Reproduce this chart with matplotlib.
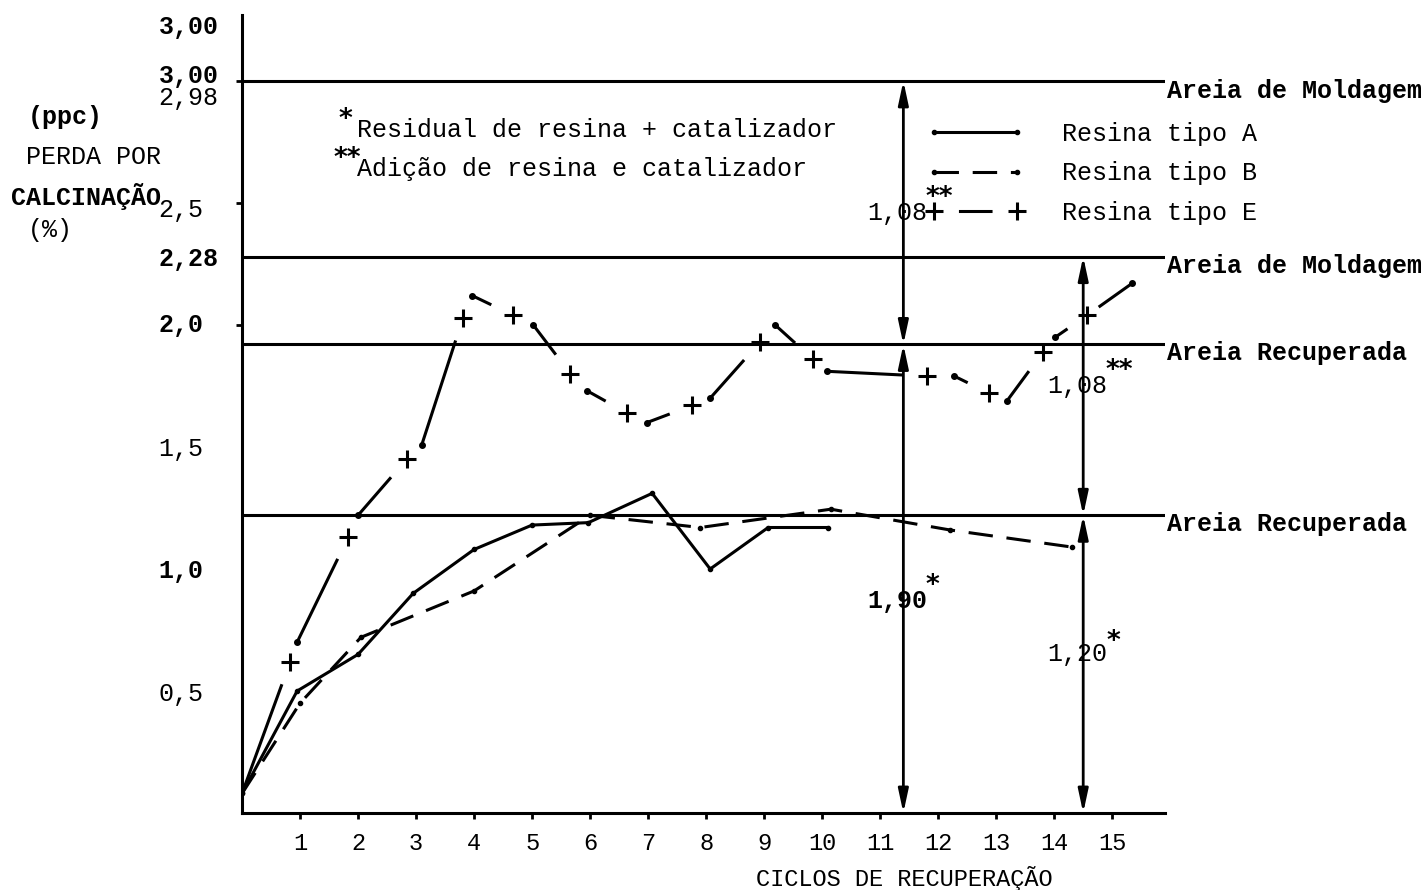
import numpy as np
import matplotlib.pyplot as plt
from matplotlib.lines import Line2D

plt.rcParams['font.family'] = ['Liberation Mono', 'DejaVu Sans Mono']

# ciclos de recuperacao / perda por calcinacao (%)
a_x = [0, 0.95, 2.0, 2.95, 4.0, 5.0, 5.97, 7.07, 8.07, 9.07, 10.1]
a_y = [0.08, 0.50, 0.65, 0.90, 1.08, 1.18, 1.19, 1.31, 1.00, 1.17, 1.17]

b_x = [0, 1.0, 2.05, 4.0, 6.0, 7.9, 10.15, 12.2, 14.3]
b_y = [0.08, 0.45, 0.72, 0.91, 1.22, 1.17, 1.245, 1.16, 1.09]

# tipo E: points alternate dot / plus
e_x = [0, 0.83, 0.95, 1.83, 2.0, 2.84, 3.1, 3.81, 3.97, 4.67, 5.02, 5.66, 5.95,
       6.63, 6.98, 7.76, 8.07, 8.93, 9.19, 9.84, 10.09, 11.81, 12.28, 12.88,
       13.19, 13.81, 14.02, 14.57, 15.34]
e_y = [0.08, 0.62, 0.70, 1.13, 1.22, 1.45, 1.51, 2.03, 2.12, 2.04, 2.00, 1.80,
       1.73, 1.64, 1.60, 1.67, 1.70, 1.93, 2.00, 1.86, 1.81, 1.79, 1.79, 1.72,
       1.69, 1.89, 1.95, 2.04, 2.17]

moldagem = [3.00, 2.28]
recuperada = [1.92, 1.22]
arrow_x = [11.4, 14.5]

ytick_pos = [0.5, 1.0, 1.5, 2.01, 2.28, 2.48, 2.94, 3.03, 3.23]
ytick_lab = ['0,5', '1,0', '1,5', '2,0', '2,28', '2,5', '2,98', '3,00', '3,00']
xticks = list(range(1, 16))

FS = 18
STAR = dict(family='DejaVu Sans', fontweight='bold', fontsize=19, ha='center', va='center')

fig = plt.figure(figsize=(14.27, 8.9), dpi=100)
ax = fig.add_axes([0.1696, 0.0865, 0.6468, 0.8966])
ax.set_xlim(0, 15.91)
ax.set_ylim(0, 3.27)

for s in ['top', 'right']:
    ax.spines[s].set_visible(False)
for s in ['left', 'bottom']:
    ax.spines[s].set_linewidth(2.2)

ax.set_xticks(xticks)
ax.set_xticklabels([str(t) for t in xticks], fontsize=FS - 1)
ax.tick_params(axis='x', length=4, width=2, pad=10)
ax.set_yticks(ytick_pos)
ax.set_yticklabels(ytick_lab, fontsize=FS, ha='left')
ax.tick_params(axis='y', length=0, pad=60)
ax.set_yticks([0.5, 1.0, 1.5, 2.0, 2.5, 3.0], minor=True)
ax.tick_params(axis='y', which='minor', length=4, width=2)
for lab in ax.get_yticklabels():
    if lab.get_text() in ('3,00', '2,28', '1,0', '2,0'):
        lab.set_fontweight('bold')

ax.set_xlabel('CICLOS DE RECUPERAÇÃO', fontsize=FS - 1)
ax.xaxis.set_label_coords(0.718, -0.066)

# reference levels
for lv in moldagem:
    ax.axhline(lv, color='k', lw=2.2)
    ax.text(15.95, lv - 0.04, 'Areia de Moldagem', fontsize=FS, fontweight='bold',
            va='center', ha='left', clip_on=False)
for lv in recuperada:
    ax.axhline(lv, color='k', lw=2.2)
    ax.text(15.95, lv - 0.035, 'Areia Recuperada', fontsize=FS, fontweight='bold',
            va='center', ha='left', clip_on=False)

# series
ax.plot(a_x, a_y, color='k', lw=2.2, marker='o', ms=3)
ax.plot(b_x, b_y, color='k', lw=2.2, ls=(0, (8, 4.5)), marker='o', ms=3)

to_px = ax.transData.transform
GAP = 24
n_e = len(e_x)
for i in range(0, n_e - 1, 2):
    x0, y0, x1, y1 = e_x[i], e_y[i], e_x[i + 1], e_y[i + 1]
    L = np.hypot(*(to_px((x1, y1)) - to_px((x0, y0))))
    f = max(0.35, 1 - GAP / L)
    ax.plot([x0, x0 + f * (x1 - x0)], [y0, y0 + f * (y1 - y0)], color='k', lw=2.2,
            solid_capstyle='butt')
# last stretch runs from the plus into the final dot
x0, y0, x1, y1 = e_x[-2], e_y[-2], e_x[-1], e_y[-1]
L = np.hypot(*(to_px((x1, y1)) - to_px((x0, y0))))
f = 14 / L
ax.plot([x0 + f * (x1 - x0), x1], [y0 + f * (y1 - y0), y1], color='k', lw=2.2,
        solid_capstyle='butt')
ax.plot(e_x[2::2], e_y[2::2], 'o', color='k', ms=4)
ax.plot(e_x[1::2], e_y[1::2], '+', color='k', ms=13, mew=2.2)

# difference arrows
arrow_kw = dict(arrowstyle='<|-|>,head_length=0.7,head_width=0.15', color='k',
                lw=2, mutation_scale=20, shrinkA=0, shrinkB=0)
for xa, top, mid in zip(arrow_x, moldagem, recuperada):
    ax.annotate('', xy=(xa, top), xytext=(xa, mid), arrowprops=arrow_kw)
    ax.annotate('', xy=(xa, mid), xytext=(xa, 0), arrowprops=arrow_kw)

ax.text(11.3, 2.46, '1,08', fontsize=FS, ha='center', va='center')
ax.text(12.02, 2.52, '**', **STAR)
ax.text(11.3, 0.87, '1,90', fontsize=FS, fontweight='bold', ha='center', va='center')
ax.text(11.9, 0.93, '*', **STAR)
ax.text(14.4, 1.75, '1,08', fontsize=FS, ha='center', va='center')
ax.text(15.12, 1.81, '**', **STAR)
ax.text(14.4, 0.65, '1,20', fontsize=FS, ha='center', va='center')
ax.text(15.02, 0.70, '*', **STAR)

# notes
ax.text(1.98, 2.80, 'Residual de resina + catalizador', fontsize=FS, va='center')
ax.text(1.78, 2.84, '*', **STAR)
ax.text(1.98, 2.64, 'Adição de resina e catalizador', fontsize=FS, va='center')
ax.text(1.81, 2.68, '**', **STAR)

# legend
handles = [
    Line2D([], [], color='k', lw=2.2, marker='o', ms=3),
    Line2D([], [], color='k', lw=2.2, ls=(0, (8, 4.5)), marker='o', ms=3),
    Line2D([], [], color='k', lw=2.2, ls=(17, (11, 14)), marker='+', ms=13, mew=2.2),
]
ax.legend(handles, ['Resina tipo A', 'Resina tipo B', 'Resina tipo E'],
          loc='upper left', bbox_to_anchor=(0.742, 0.866), frameon=False,
          fontsize=FS, handlelength=3.9, handletextpad=1.5, labelspacing=0.62,
          numpoints=2, borderpad=0, borderaxespad=0)

# y axis title
fig.text(65 / 1427, 1 - 117 / 890, '(ppc)', fontsize=FS, fontweight='bold', ha='center', va='center')
fig.text(93 / 1427, 1 - 157 / 890, 'PERDA POR', fontsize=FS, ha='center', va='center')
fig.text(86 / 1427, 1 - 197 / 890, 'CALCINAÇÃO', fontsize=FS, fontweight='bold', ha='center', va='center')
fig.text(50 / 1427, 1 - 230 / 890, '(%)', fontsize=FS, ha='center', va='center')

fig.savefig('out.png', dpi=100)
